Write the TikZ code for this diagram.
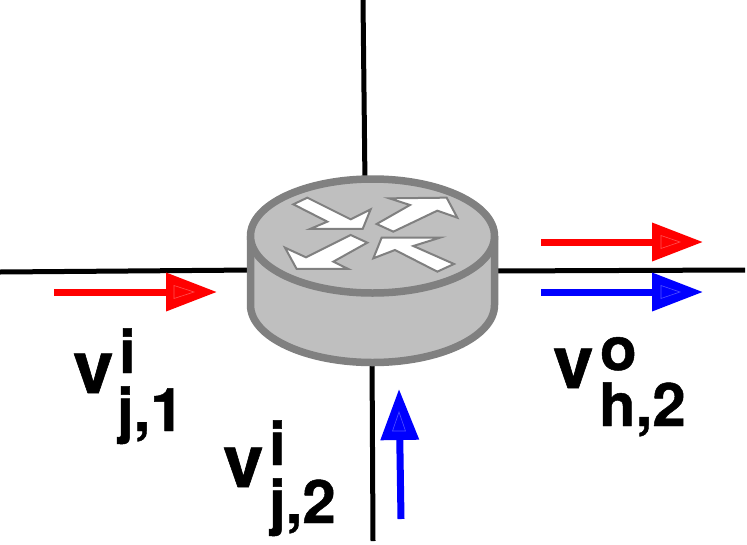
\documentclass[tikz,border=0pt]{standalone}
\usepackage{fontspec}
\setmainfont{TeX Gyre Heros}[BoldFeatures={FakeBold=0.8}]
\usetikzlibrary{arrows.meta}
\definecolor{rstroke}{HTML}{808080}
\definecolor{rfill}{HTML}{BFBFBF}
\definecolor{pred}{HTML}{FF5050}
\definecolor{pblue}{HTML}{5050FF}
\newcommand{\suppart}[3]{\rlap{\hspace{#1pt}\raisebox{#2pt}{\fontsize{60}{60}\selectfont\bfseries #3}}}
\newcommand{\subpart}[3]{\rlap{\hspace{#1pt}\raisebox{-#2pt}{\fontsize{60}{60}\selectfont\bfseries #3}}}
\tikzset{
  wire/.style={draw=black,line width=5pt},
  flowred/.style={draw=red,line width=7pt,-{Triangle[length=51pt,width=37pt,fill=red]}},
  flowblue/.style={draw=blue,line width=7pt,-{Triangle[length=51pt,width=37pt,fill=blue]}},
  innerred/.style={draw=pred,line width=0.6pt},
  innerblue/.style={draw=pblue,line width=0.6pt},
  routerbody/.style={draw=rstroke,fill=rfill,line width=7.5pt,line join=round},
  routerarrow/.style={draw=rstroke,fill=white,line width=2pt,line join=miter},
  vlab/.style={inner sep=0pt,outer sep=0pt,anchor=base west}
}
\begin{document}
\begin{tikzpicture}[x=1pt,y=-1pt]
\useasboundingbox (0,0) rectangle (747,544);
% free ends of the wires
\coordinate (wt) at (363,0);
\coordinate (wta) at (365,185);
\coordinate (wb) at (373,541);
\coordinate (wba) at (372,355);
\coordinate (wl) at (0,272);
\coordinate (wla) at (255,270);
\coordinate (wr) at (745,270);
\coordinate (wra) at (490,271);
\draw[wire] (wt) -- (wta);
\draw[wire] (wb) -- (wba);
\draw[wire] (wl) -- (wla);
\draw[wire] (wr) -- (wra);
% router
\draw[routerbody] (250.5,236) -- (250.5,305) arc[start angle=180,end angle=0,x radius=122,y radius=57.5] -- (494.5,236);
\draw[routerbody] (372.5,236) ellipse[x radius=122,y radius=57];
\begin{scope}[shift={(230,170)},x=0.3333pt,y=-0.3333pt]
\draw[routerarrow] (190,103)--(232,83)--(362,148)--(422,118)--(398,177)--(240,177)--(292,155)--cycle;
\draw[routerarrow] (440,162)--(490,185)--(622,122)--(682,143)--(650,83)--(478,85)--(540,105)--cycle;
\draw[routerarrow] (412,218)--(362,195)--(228,262)--(165,233)--(200,297)--(355,297)--(310,275)--cycle;
\draw[routerarrow] (672,282)--(622,305)--(495,240)--(430,265)--(455,203)--(630,203)--(550,228)--cycle;
\end{scope}
% flow arrows
\coordinate (a1s) at (54,292); \coordinate (a1e) at (217,292);
\coordinate (a2s) at (541,242); \coordinate (a2e) at (703,242);
\coordinate (a3s) at (541,292); \coordinate (a3e) at (703,292);
\coordinate (a4s) at (401,519); \coordinate (a4e) at (399,389);
\draw[flowred] (a1s) -- (a1e);
\draw[flowred] (a2s) -- (a2e);
\draw[flowblue] (a3s) -- (a3e);
\draw[flowblue] (a4s) -- (a4e);
\draw[innerred] (174,285.5) -- (194,292) -- (174,298.5) -- cycle;
\draw[innerred] (661,235.5) -- (680,242) -- (661,248.5) -- cycle;
\draw[innerblue] (661,285.5) -- (680,292) -- (661,298.5) -- cycle;
\draw[innerblue] (392.5,431) -- (399,412) -- (405.5,431) -- cycle;
% labels
\node[vlab] (l1) at (73,393) {\suppart{46}{20}{i}\subpart{44}{38}{j,1}\fontsize{73}{73}\selectfont\bfseries v};
\node[vlab] (l2) at (223,487) {\suppart{46}{22}{i}\subpart{46}{36}{j,2}\fontsize{73}{73}\selectfont\bfseries v};
\node[vlab] (l3) at (553,388) {\suppart{47}{18}{o}\subpart{46}{38}{h,2}\fontsize{73}{73}\selectfont\bfseries v};
\end{tikzpicture}
\end{document}
